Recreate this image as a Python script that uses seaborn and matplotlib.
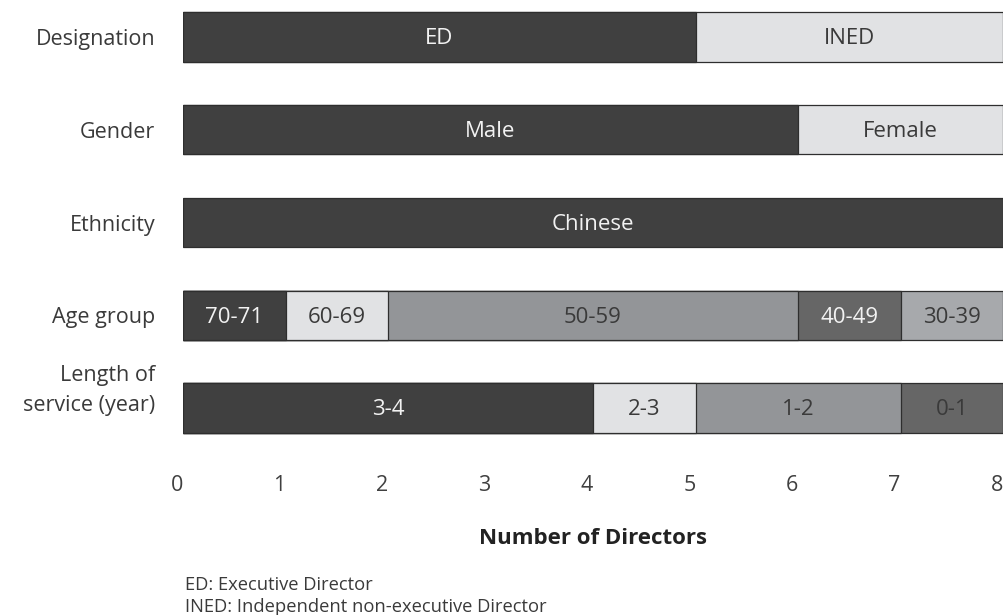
import matplotlib
matplotlib.use("Agg")
import matplotlib.pyplot as plt
import matplotlib.transforms as mtransforms
import pandas as pd
import seaborn as sns

# board composition, one list per row of the chart
categories = ["Designation", "Gender", "Ethnicity", "Age group", "Length of\nservice (year)"]

designation_labels = ["ED", "INED"]
designation_counts = [5, 3]
gender_labels = ["Male", "Female"]
gender_counts = [6, 2]
ethnicity_labels = ["Chinese"]
ethnicity_counts = [8]
age_labels = ["70-71", "60-69", "50-59", "40-49", "30-39"]
age_counts = [1, 1, 4, 1, 1]
service_labels = ["3-4", "2-3", "1-2", "0-1"]
service_counts = [4, 1, 2, 1]

x_ticks = [0, 1, 2, 3, 4, 5, 6, 7, 8]
footnotes = ["ED: Executive Director", "INED: Independent non-executive Director"]

DARK = "#404040"
LIGHT = "#e1e2e4"
MID = "#939598"
DIM = "#666666"
PALE = "#a7a9ac"
TEXT = "#3a3a3a"
WHITE = "#f2f2f2"

seg_colors = {
    "ED": DARK, "INED": LIGHT,
    "Male": DARK, "Female": LIGHT,
    "Chinese": DARK,
    "70-71": DARK, "60-69": LIGHT, "50-59": MID, "40-49": DIM, "30-39": PALE,
    "3-4": DARK, "2-3": LIGHT, "1-2": MID, "0-1": DIM,
}
light_text = {"ED", "Male", "Chinese", "70-71", "40-49", "3-4"}

rows = []
for cat, labels, counts in zip(
    categories,
    [designation_labels, gender_labels, ethnicity_labels, age_labels, service_labels],
    [designation_counts, gender_counts, ethnicity_counts, age_counts, service_counts],
):
    start = 0
    for k, (lab, n) in enumerate(zip(labels, counts)):
        rows.append({"category": cat, "segment": lab, "layer": k,
                     "start": start, "end": start + n})
        start += n
df = pd.DataFrame(rows)

sns.set_style("white")
plt.rcParams["font.family"] = ["Open Sans", "DejaVu Sans"]

fig = plt.figure(figsize=(10.05, 6.15), dpi=100)
ax = fig.add_axes([183 / 1005, 1 - 440 / 615, 820 / 1005, 435 / 615])

# stacked bars: draw cumulative ends, outermost layer first
for k in sorted(df["layer"].unique(), reverse=True):
    sub = df[df["layer"] == k]
    sns.barplot(
        data=sub, x="end", y="category", order=categories,
        hue="segment", palette=seg_colors, dodge=False, legend=False,
        saturation=1, width=0.53, edgecolor="#2e2e2e", linewidth=0.9,
        orient="h", ax=ax,
    )

for _, r in df.iterrows():
    y = categories.index(r["category"])
    ax.text((r["start"] + r["end"]) / 2, y + 0.02, r["segment"],
            ha="center", va="center", fontsize=16,
            color=WHITE if r["segment"] in light_text else TEXT)

ax.set_xlim(0, 8)
ax.set_ylim((440 - 37) / 92.75, (5 - 37) / 92.75)
ax.set_xticks(x_ticks)
ax.set_xticklabels([str(t) for t in x_ticks])
ax.tick_params(axis="x", length=0, pad=25, labelsize=15.5, labelcolor="#404040")
ax.tick_params(axis="y", length=0, pad=20, labelsize=15.5, labelcolor="#3a3a3a")
for lab in ax.get_xticklabels():
    lab.set_transform(lab.get_transform() + mtransforms.ScaledTranslation(-6 / 100, 0, fig.dpi_scale_trans))
for lab in ax.get_yticklabels():
    lab.set_multialignment("right")
    lab.set_linespacing(1.6)
# the two-line label sits a little above its bar
last = ax.get_yticklabels()[-1]
last.set_transform(last.get_transform() + mtransforms.ScaledTranslation(0, 25 / 100, fig.dpi_scale_trans))
ax.set_ylabel("")
ax.set_xlabel("")
for s in ax.spines.values():
    s.set_visible(False)

fig.text(593 / 1005, 1 - 539 / 615, "Number of Directors", ha="center", va="center",
         fontsize=16, fontweight="bold", color="#222222")
for i, note in enumerate(footnotes):
    fig.text(185 / 1005, 1 - (585 + 22 * i) / 615, note, ha="left", va="center",
             fontsize=13.2, color="#3a3a3a")

fig.savefig("out.png", dpi=100)
